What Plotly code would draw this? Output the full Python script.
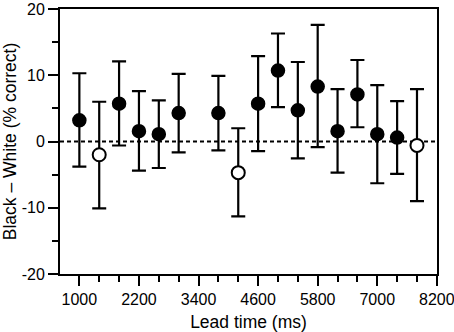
import plotly.graph_objects as go

lead_time = [1000, 1400, 1800, 2200, 2600, 3000, 3800, 4200, 4600, 5000, 5400, 5800, 6200, 6600, 7000, 7400, 7800]
diff      = [3.2, -2.0, 5.7, 1.55, 1.1, 4.3, 4.3, -4.7, 5.7, 10.7, 4.7, 8.3, 1.55, 7.1, 1.1, 0.6, -0.6]
upper     = [10.3, 6.0, 12.1, 7.6, 6.2, 10.2, 9.9, 2.0, 12.9, 16.3, 12.0, 17.6, 7.9, 12.3, 8.5, 6.1, 7.9]
lower     = [-3.8, -10.1, -0.6, -4.4, -4.0, -1.65, -1.35, -11.3, -1.45, 5.2, -2.55, -0.85, -4.7, 2.15, -6.3, -4.9, -9.0]
is_open   = [False, True, False, False, False, False, False, True, False, False, False, False, False, False, False, False, True]

x_ticks = [1000, 2200, 3400, 4600, 5800, 7000, 8200]
y_ticks = [-20, -10, 0, 10, 20]

FONT = "Liberation Sans, Arial, sans-serif"

fig = go.Figure()

for opn in (False, True):
    idx = [i for i in range(len(lead_time)) if is_open[i] == opn]
    xs = [lead_time[i] for i in idx]
    ys = [diff[i] for i in idx]
    ep = [upper[i] - diff[i] for i in idx]
    em = [diff[i] - lower[i] for i in idx]
    fig.add_trace(go.Scatter(
        x=xs, y=ys, mode="markers",
        error_y=dict(type="data", symmetric=False, array=ep, arrayminus=em,
                     color="black", thickness=2.2, width=7),
        marker=dict(size=13, color="white" if opn else "black",
                    line=dict(color="black", width=2 if opn else 1.5)),
        showlegend=False,
        cliponaxis=False,
    ))

fig.add_shape(type="line", xref="paper", yref="y", x0=0, x1=1, y0=0, y1=0,
              line=dict(color="black", width=2, dash="4px,3px"), layer="below")

fig.update_layout(
    width=454, height=332,
    margin=dict(l=60, r=17, t=9, b=58),
    paper_bgcolor="white", plot_bgcolor="white",
    font=dict(family=FONT, color="black", size=16),
    xaxis=dict(
        range=[610, 8203], tickvals=x_ticks, ticktext=[str(v) for v in x_ticks],
        ticks="outside", ticklen=10, tickwidth=2, tickcolor="black",
        minor=dict(ticks="outside", ticklen=6, tickwidth=2, tickcolor="black", tick0=1000, dtick=400),
        showline=True, linecolor="black", linewidth=2, mirror=True,
        showgrid=False, zeroline=False, automargin=False,
        ticklabeloverflow="allow",
        tickfont=dict(size=16),
        title=dict(text="Lead time (ms)", font=dict(size=17.5), standoff=12),
    ),
    yaxis=dict(
        range=[-20, 20], tickvals=y_ticks, ticktext=[str(v) for v in y_ticks],
        ticks="outside", ticklen=10, tickwidth=2, tickcolor="black",
        minor=dict(ticks="outside", ticklen=6, tickwidth=2, tickcolor="black", tick0=-20, dtick=5),
        showline=True, linecolor="black", linewidth=2, mirror=True,
        showgrid=False, zeroline=False, automargin=False,
        tickfont=dict(size=16),
        title=dict(text="Black – White (% correct)", font=dict(size=17.5), standoff=2),
    ),
)

fig.write_html("out.html")
